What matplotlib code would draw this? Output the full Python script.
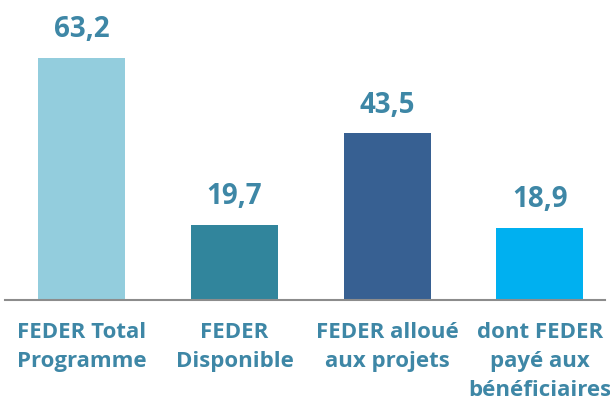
import matplotlib
matplotlib.use("Agg")
import matplotlib.pyplot as plt

categories = ["FEDER Total\nProgramme", "FEDER\nDisponible",
              "FEDER alloué\naux projets", "dont FEDER\npayé aux\nbénéficiaires"]
values = [63.2, 19.7, 43.5, 18.9]
labels = ["63,2", "19,7", "43,5", "18,9"]
colors = ["#93CDDD", "#31859C", "#376092", "#00B0F0"]
text_color = "#3E87A6"

plt.rcParams['font.family'] = ['Open Sans', 'DejaVu Sans']

fig = plt.figure(figsize=(6.1, 4.1), dpi=100)
ax = fig.add_axes([5 / 610, 109 / 410, 600 / 610, 268 / 410])

x = range(len(values))
ax.bar(x, values, width=0.57, color=colors)
for xi, v, lab in zip(x, values, labels):
    ax.text(xi, v + 3.8, lab, ha='center', va='bottom', fontsize=20,
            fontweight='bold', color=text_color)

ax.set_xlim(-0.504, 3.426)
ax.set_ylim(0, 70)
ax.set_xticks(list(x))
ax.set_xticklabels(categories, fontsize=16, fontweight='bold',
                   color=text_color, linespacing=1.5)
ax.tick_params(axis='x', length=0, pad=15)
ax.set_yticks([])
for side in ['top', 'right', 'left']:
    ax.spines[side].set_visible(False)
ax.spines['bottom'].set_color('#8C8C8C')
ax.spines['bottom'].set_linewidth(1.5)

fig.savefig("out.png", dpi=100)
